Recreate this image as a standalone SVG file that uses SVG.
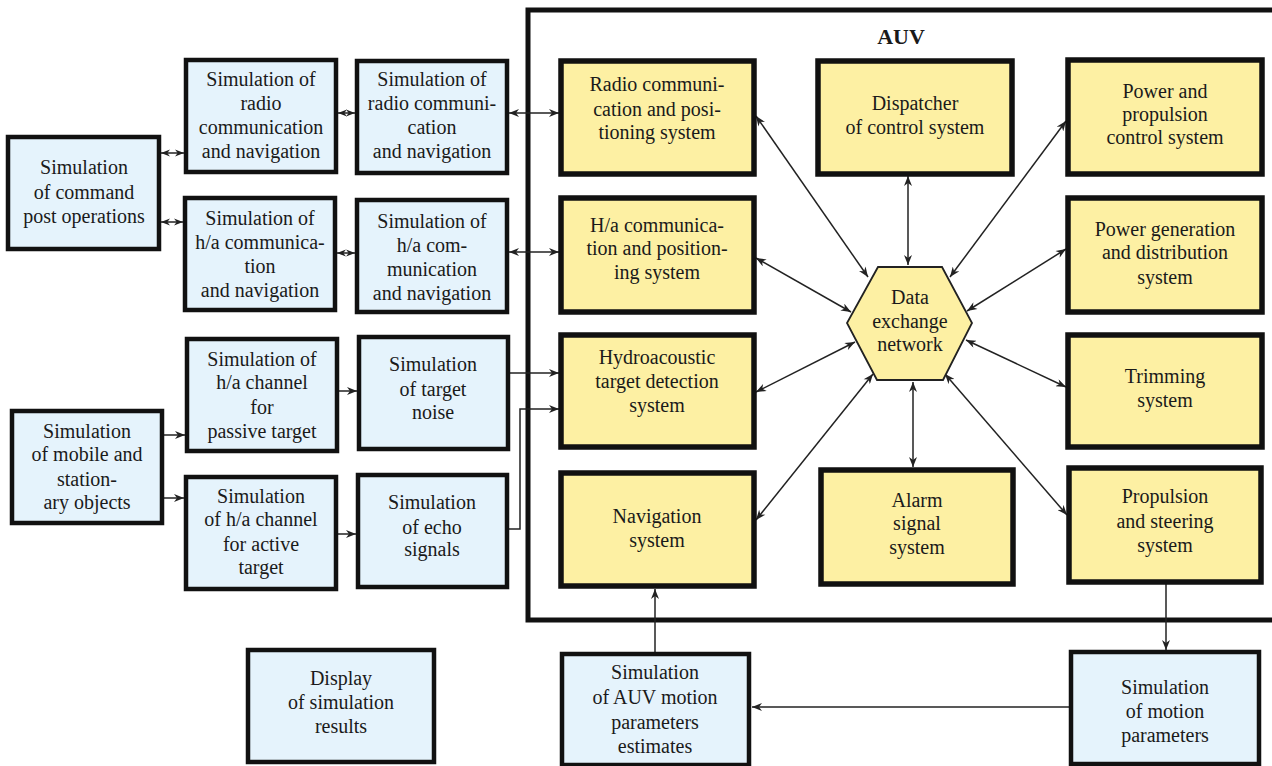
<svg xmlns="http://www.w3.org/2000/svg" width="1272" height="766" viewBox="0 0 1272 766">
<style>
.blue{fill:#e5f3fc;stroke:#111;stroke-width:4.5}
.yel{fill:#fdf0a3;stroke:#111;stroke-width:5.5}
.t{font-family:"Liberation Serif","Times New Roman",serif;font-size:20px;fill:#1a1a1a;text-anchor:middle}
.c{fill:none;stroke:#222;stroke-width:1.5}
</style>
<defs>
<marker id="a" viewBox="0 0 10 8" refX="10" refY="4" markerUnits="userSpaceOnUse" markerWidth="11" markerHeight="8" orient="auto-start-reverse">
<path d="M0,0 L10,4 L0,8 L3,4 z" fill="#222"/>
</marker>
<marker id="s" viewBox="0 0 10 8" refX="10" refY="4" markerUnits="userSpaceOnUse" markerWidth="9" markerHeight="8" orient="auto-start-reverse">
<path d="M0,0 L10,4 L0,8 L3,4 z" fill="#222"/>
</marker>
</defs>
<rect width="1272" height="766" fill="#fff"/>
<g id="auv-frame">
<rect x="528" y="10" width="800" height="610" fill="none" stroke="#111" stroke-width="5"/>
<text x="901" y="44" class="t" style="font-weight:bold;font-size:22px">AUV</text>
</g>
<g id="connectors">
<line class="c" x1="161" y1="153" x2="184" y2="153" marker-start="url(#s)" marker-end="url(#s)"/>
<line class="c" x1="161" y1="222" x2="183" y2="222" marker-start="url(#s)" marker-end="url(#s)"/>
<line class="c" x1="338" y1="113" x2="355" y2="113" marker-start="url(#s)" marker-end="url(#s)"/>
<line class="c" x1="337" y1="253" x2="355" y2="253" marker-start="url(#s)" marker-end="url(#s)"/>
<line class="c" x1="509" y1="113" x2="559" y2="113" marker-start="url(#a)" marker-end="url(#a)"/>
<line class="c" x1="509" y1="252" x2="559" y2="252" marker-start="url(#a)" marker-end="url(#a)"/>
<polyline class="c" points="509,373 559,373" marker-end="url(#a)"/>
<polyline class="c" points="509,529 520,529 520,409 559,409" marker-end="url(#a)"/>
<line class="c" x1="339" y1="391" x2="357" y2="391" marker-end="url(#a)"/>
<line class="c" x1="338" y1="534" x2="356" y2="534" marker-end="url(#a)"/>
<line class="c" x1="164" y1="435" x2="185" y2="435" marker-end="url(#a)"/>
<line class="c" x1="164" y1="498" x2="184" y2="498" marker-end="url(#a)"/>
<line class="c" x1="756" y1="116" x2="868" y2="277" marker-start="url(#a)" marker-end="url(#a)"/>
<line class="c" x1="756" y1="258" x2="851" y2="312" marker-start="url(#a)" marker-end="url(#a)"/>
<line class="c" x1="756" y1="392" x2="855" y2="342" marker-start="url(#a)" marker-end="url(#a)"/>
<line class="c" x1="756" y1="520" x2="873" y2="374" marker-start="url(#a)" marker-end="url(#a)"/>
<line class="c" x1="908" y1="176" x2="908" y2="265" marker-start="url(#a)" marker-end="url(#a)"/>
<line class="c" x1="913" y1="382" x2="913" y2="467" marker-start="url(#a)" marker-end="url(#a)"/>
<line class="c" x1="1066" y1="121" x2="950" y2="277" marker-start="url(#a)" marker-end="url(#a)"/>
<line class="c" x1="1066" y1="249" x2="967" y2="311" marker-start="url(#a)" marker-end="url(#a)"/>
<line class="c" x1="1066" y1="387" x2="966" y2="340" marker-start="url(#a)" marker-end="url(#a)"/>
<line class="c" x1="1067" y1="515" x2="945" y2="374" marker-start="url(#a)" marker-end="url(#a)"/>
<line class="c" x1="1166" y1="584" x2="1166" y2="650" marker-end="url(#a)"/>
<line class="c" x1="1069" y1="707" x2="752" y2="707" marker-end="url(#a)"/>
<line class="c" x1="655" y1="652" x2="655" y2="589" marker-end="url(#a)"/>
</g>
<g id="cmd"><rect class="blue" x="8" y="137" width="151" height="112"/>
<text class="t" x="84" y="174">Simulation</text><text class="t" x="84" y="199">of command</text><text class="t" x="84" y="223">post operations</text></g>
<g id="radio-sim1"><rect class="blue" x="186" y="60" width="150" height="112"/>
<text class="t" x="261" y="86">Simulation of</text><text class="t" x="261" y="110">radio</text><text class="t" x="261" y="134">communication</text><text class="t" x="261" y="158">and navigation</text></g>
<g id="radio-sim2"><rect class="blue" x="357" y="61" width="150" height="112"/>
<text class="t" x="432" y="86">Simulation of</text><text class="t" x="432" y="110">radio communi-</text><text class="t" x="432" y="134">cation</text><text class="t" x="432" y="158">and navigation</text></g>
<g id="ha-sim1"><rect class="blue" x="185" y="198" width="150" height="112"/>
<text class="t" x="260" y="225">Simulation of</text><text class="t" x="260" y="249">h/a communica-</text><text class="t" x="260" y="273">tion</text><text class="t" x="260" y="297">and navigation</text></g>
<g id="ha-sim2"><rect class="blue" x="357" y="200" width="150" height="112"/>
<text class="t" x="432" y="228">Simulation of</text><text class="t" x="432" y="252">h/a com-</text><text class="t" x="432" y="276">munication</text><text class="t" x="432" y="300">and navigation</text></g>
<g id="passive"><rect class="blue" x="187" y="339" width="150" height="112"/>
<text class="t" x="262" y="366">Simulation of</text><text class="t" x="262" y="389">h/a channel</text><text class="t" x="262" y="414">for</text><text class="t" x="262" y="438">passive target</text></g>
<g id="noise"><rect class="blue" x="359" y="337" width="149" height="112"/>
<text class="t" x="433" y="371">Simulation</text><text class="t" x="433" y="396">of target</text><text class="t" x="433" y="419">noise</text></g>
<g id="mobile"><rect class="blue" x="12" y="411" width="150" height="112"/>
<text class="t" x="87" y="438">Simulation</text><text class="t" x="87" y="461">of mobile and</text><text class="t" x="87" y="486">station-</text><text class="t" x="87" y="509">ary objects</text></g>
<g id="active"><rect class="blue" x="186" y="477" width="150" height="112"/>
<text class="t" x="261" y="503">Simulation</text><text class="t" x="261" y="526">of h/a channel</text><text class="t" x="261" y="551">for active</text><text class="t" x="261" y="574">target</text></g>
<g id="echo"><rect class="blue" x="358" y="475" width="149" height="112"/>
<text class="t" x="432" y="509">Simulation</text><text class="t" x="432" y="534">of echo</text><text class="t" x="432" y="556">signals</text></g>
<g id="display"><rect class="blue" x="248" y="650" width="186" height="112"/>
<text class="t" x="341" y="685">Display</text><text class="t" x="341" y="709">of simulation</text><text class="t" x="341" y="733">results</text></g>
<g id="radio-comm"><rect class="yel" x="561" y="61" width="193" height="113"/>
<text class="t" x="657" y="91">Radio communi-</text><text class="t" x="657" y="116">cation and posi-</text><text class="t" x="657" y="139">tioning system</text></g>
<g id="ha-comm"><rect class="yel" x="561" y="198" width="193" height="114"/>
<text class="t" x="657" y="232">H/a communica-</text><text class="t" x="657" y="255">tion and position-</text><text class="t" x="657" y="279">ing system</text></g>
<g id="hydro"><rect class="yel" x="561" y="335" width="193" height="112"/>
<text class="t" x="657" y="364">Hydroacoustic</text><text class="t" x="657" y="388">target detection</text><text class="t" x="657" y="412">system</text></g>
<g id="navigation"><rect class="yel" x="561" y="473" width="193" height="113"/>
<text class="t" x="657" y="523">Navigation</text><text class="t" x="657" y="547">system</text></g>
<g id="dispatcher"><rect class="yel" x="818" y="61" width="194" height="113"/>
<text class="t" x="915" y="110">Dispatcher</text><text class="t" x="915" y="134">of control system</text></g>
<g id="alarm"><rect class="yel" x="821" y="470" width="192" height="114"/>
<text class="t" x="917" y="507">Alarm</text><text class="t" x="917" y="530">signal</text><text class="t" x="917" y="554">system</text></g>
<g id="power-prop"><rect class="yel" x="1068" y="60" width="194" height="114"/>
<text class="t" x="1165" y="98">Power and</text><text class="t" x="1165" y="121">propulsion</text><text class="t" x="1165" y="144">control system</text></g>
<g id="power-gen"><rect class="yel" x="1068" y="198" width="194" height="114"/>
<text class="t" x="1165" y="236">Power generation</text><text class="t" x="1165" y="259">and distribution</text><text class="t" x="1165" y="284">system</text></g>
<g id="trimming"><rect class="yel" x="1068" y="335" width="194" height="112"/>
<text class="t" x="1165" y="383">Trimming</text><text class="t" x="1165" y="407">system</text></g>
<g id="propulsion"><rect class="yel" x="1069" y="468" width="192" height="114"/>
<text class="t" x="1165" y="503">Propulsion</text><text class="t" x="1165" y="528">and steering</text><text class="t" x="1165" y="552">system</text></g>
<g id="hex"><polygon points="878,267 942,267 972,323 943,380 877,380 847,323" fill="#fdf0a3" stroke="#222" stroke-width="1.8"/>
<text class="t" x="910" y="304">Data</text><text class="t" x="910" y="328">exchange</text><text class="t" x="910" y="351">network</text></g>
<g id="sim-auv"><rect class="blue" x="562" y="654" width="187" height="111"/>
<text class="t" x="655" y="679">Simulation</text><text class="t" x="655" y="704">of AUV motion</text><text class="t" x="655" y="729">parameters</text><text class="t" x="655" y="753">estimates</text></g>
<g id="sim-motion"><rect class="blue" x="1071" y="652" width="188" height="112"/>
<text class="t" x="1165" y="694">Simulation</text><text class="t" x="1165" y="718">of motion</text><text class="t" x="1165" y="742">parameters</text></g>
</svg>
